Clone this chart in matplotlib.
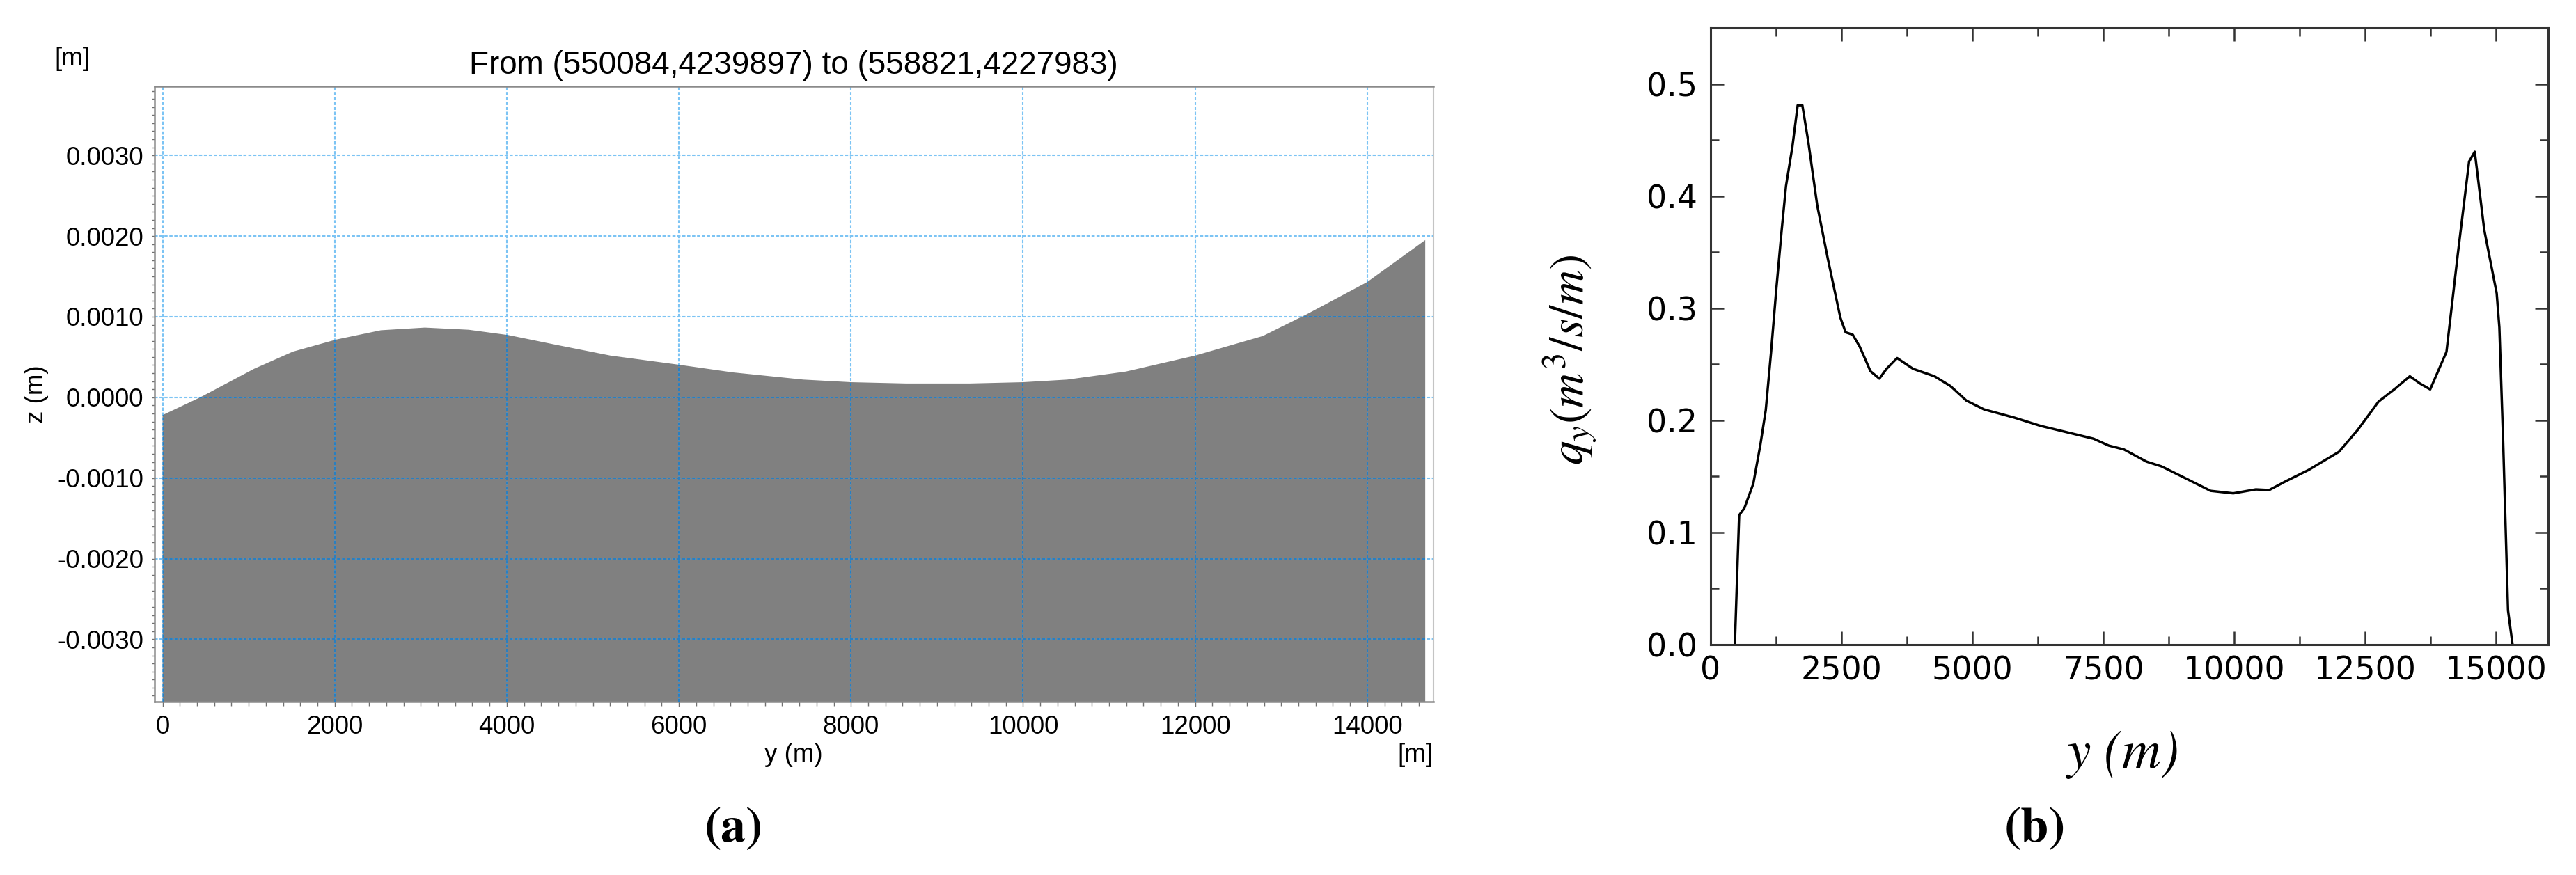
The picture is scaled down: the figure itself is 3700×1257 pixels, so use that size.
import numpy as np
import matplotlib
matplotlib.use("Agg")
import matplotlib.pyplot as plt
from matplotlib.ticker import MultipleLocator, FormatStrFormatter

# ---------------- data ----------------
# panel (a): bed profile along transect
y_a = [0, 437, 1061, 1515, 2015, 2537, 3048, 3558, 4019, 4580, 5204, 6010,
       6623, 7447, 8000, 8642, 9379, 10000, 10513, 11195, 12000, 12785,
       13296, 14000, 14674]
z_a = [-0.00022, 0.0, 0.000353, 0.000567, 0.000716, 0.000832, 0.000865,
       0.000838, 0.000772, 0.00065, 0.000518, 0.000403, 0.00031, 0.00022,
       0.000188, 0.000172, 0.000172, 0.000188, 0.00022, 0.00032, 0.000518,
       0.00076, 0.00103, 0.00143, 0.00195]
xticks_a = [0, 2000, 4000, 6000, 8000, 10000, 12000, 14000]
yticks_a = [-0.003, -0.002, -0.001, 0.0, 0.001, 0.002, 0.003]

# panel (b): discharge per unit width
y_b = [463, 545, 646, 816, 951, 1053, 1155, 1256, 1358, 1440, 1562, 1663,
       1752, 1867, 2036, 2240, 2478, 2579, 2714, 2850, 3053, 3223, 3359,
       3562, 3868, 4275, 4580, 4885, 5224, 5801, 6305, 6810, 7314, 7603,
       7891, 8323, 8612, 9044, 9549, 9981, 10413, 10666, 10990, 11422,
       11999, 12359, 12755, 13080, 13353, 13548, 13742, 14053, 14269,
       14485, 14593, 14774, 15012, 15063, 15134, 15228, 15315]
q_b = [0.0, 0.1154, 0.1218, 0.1436, 0.1784, 0.209, 0.261, 0.3177, 0.37,
       0.409, 0.444, 0.481, 0.481, 0.448, 0.3917, 0.3438, 0.2916, 0.2785,
       0.2764, 0.2655, 0.2438, 0.2372, 0.2459, 0.2555, 0.2459, 0.2393,
       0.2306, 0.2176, 0.2097, 0.2024, 0.195, 0.1893, 0.1836, 0.1775,
       0.1741, 0.1632, 0.1589, 0.1489, 0.1371, 0.1349, 0.1384, 0.1378,
       0.1458, 0.1558, 0.1719, 0.1915, 0.2167, 0.2285, 0.2393, 0.2328,
       0.2276, 0.2611, 0.3481, 0.4308, 0.4395, 0.3699, 0.3133, 0.2829,
       0.183, 0.0305, 0.0]
xticks_b = [0, 2500, 5000, 7500, 10000, 12500, 15000]
yticks_b = [0.0, 0.1, 0.2, 0.3, 0.4, 0.5]

title_a = "From (550084,4239897) to (558821,4227983)"

# ---------------- figure ----------------
W, H = 3700, 1257
fig = plt.figure(figsize=(W / 100, H / 100), dpi=100)

def fx(px):
    return px / W

def fy(py):
    return 1 - py / H

SANS = ["Liberation Sans", "DejaVu Sans"]

# ---------- panel (a) ----------
axa = fig.add_axes([fx(221.7), fy(1007.6), fx(2059) - fx(221.7), fy(123.6) - fy(1007.6)])
axa.set_xlim(-96, 14770)
axa.set_ylim(-0.00377, 0.00386)

poly = axa.fill_between(y_a, z_a, -1, color="#808080", lw=0, zorder=1)
clip_path = poly.get_paths()[0]

light = "#7cc4f4"
dark = "#2a7fc0"
dash = (0, (2.2, 1.2))
for xv in xticks_a:
    axa.axvline(xv, color=light, lw=1.5, ls=dash, zorder=2)
    l = axa.axvline(xv, color=dark, lw=1.5, ls=dash, zorder=3)
    l.set_clip_path(clip_path, transform=axa.transData)
for yv in yticks_a:
    axa.axhline(yv, color=light, lw=1.5, ls=dash, zorder=2)
    l = axa.axhline(yv, color=dark, lw=1.5, ls=dash, zorder=3)
    l.set_clip_path(clip_path, transform=axa.transData)

axa.set_xticks(xticks_a)
axa.set_yticks(yticks_a)
axa.yaxis.set_major_formatter(FormatStrFormatter("%.4f"))
axa.xaxis.set_minor_locator(MultipleLocator(200))
axa.yaxis.set_minor_locator(MultipleLocator(0.0001))
axa.tick_params(axis="both", which="both", direction="out", color="#707070",
                width=1.0, labelsize=26.5, labelcolor="black")
axa.tick_params(axis="x", which="major", length=5, pad=9)
axa.tick_params(axis="x", which="minor", length=4)
axa.tick_params(axis="y", which="major", length=3, pad=8)
axa.tick_params(axis="y", which="minor", length=3)
for lab in axa.get_xticklabels() + axa.get_yticklabels():
    lab.set_family(SANS)
for side in ["left", "top", "bottom"]:
    axa.spines[side].set_color("#8a8a8a")
    axa.spines[side].set_linewidth(1.8)
axa.spines["right"].set_color("#c4c4c4")
axa.spines["right"].set_linewidth(1.5)

fig.text(fx(1140), fy(94), title_a, ha="center", va="center", fontsize=33,
         family=SANS)
fig.text(fx(104), fy(84), "[m]", ha="center", va="center", fontsize=26.5, family=SANS)
fig.text(fx(2033), fy(1085), "[m]", ha="center", va="center", fontsize=26.5, family=SANS)
fig.text(fx(1140), fy(1085), "y (m)", ha="center", va="center", fontsize=26.5, family=SANS)
fig.text(fx(52), fy(566), "z (m)", ha="center", va="center", fontsize=26.5,
         family=SANS, rotation=90)
fig.text(fx(1054), fy(1192), "(a)", ha="center", va="center", fontsize=52,
         family="STIXGeneral", weight="bold")

# ---------- panel (b) ----------
axb = fig.add_axes([fx(2457), fy(926), fx(3660.4) - fx(2457), fy(40) - fy(926)])
axb.plot(y_b, q_b, color="black", lw=2.5, solid_joinstyle="round")
axb.set_xlim(0, 16000)
axb.set_ylim(0, 0.55)
axb.set_xticks(xticks_b)
axb.set_yticks(yticks_b)
axb.yaxis.set_major_formatter(FormatStrFormatter("%.1f"))
axb.xaxis.set_minor_locator(MultipleLocator(1250))
axb.yaxis.set_minor_locator(MultipleLocator(0.05))
axb.tick_params(axis="both", which="both", direction="in", top=True, right=True,
                color="#333333", width=1.8, labelsize=33, labelcolor="black")
axb.tick_params(axis="both", which="major", length=14)
axb.tick_params(axis="both", which="minor", length=8.5)
axb.tick_params(axis="y", which="major", pad=14)
axb.tick_params(axis="x", which="major", pad=11)
for lab in axb.get_xticklabels() + axb.get_yticklabels():
    lab.set_family("DejaVu Sans")
for side in axb.spines:
    axb.spines[side].set_color("#333333")
    axb.spines[side].set_linewidth(2.2)

plt.rcParams["mathtext.fontset"] = "stix"
fig.text(fx(2255), fy(517), r"$q_y(m^3/s/m)$", ha="center", va="center",
         fontsize=50, rotation=90)
fig.text(fx(3050), fy(1084), "y (m)", ha="center", va="center", fontsize=56,
         family="STIXGeneral", style="italic")
fig.text(fx(2923), fy(1192), "(b)", ha="center", va="center", fontsize=52,
         family="STIXGeneral", weight="bold")

fig.savefig("out.png", dpi=100, facecolor="white")
